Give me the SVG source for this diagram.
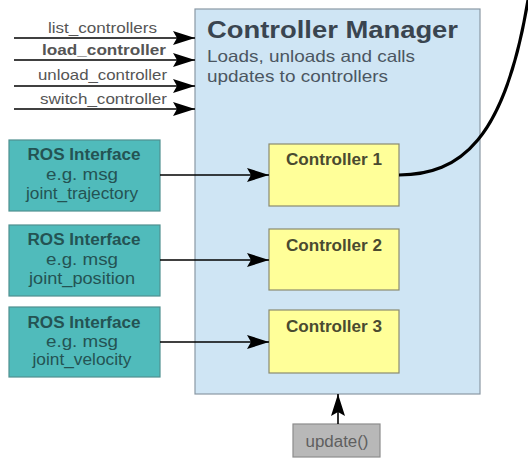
<svg xmlns="http://www.w3.org/2000/svg" width="528" height="460" viewBox="0 0 528 460">
<style>
text{font-family:"Liberation Sans",Arial,sans-serif}
.lbl{font-size:15px;fill:#555;text-anchor:middle}
.ros{fill:#50bbbb;stroke:#4f8f8f;stroke-width:1.2}
.rt{font-size:16px;fill:#245353;text-anchor:middle}
.ctl{fill:#ffff99;stroke:#8a8a70;stroke-width:1.2}
.ct{font-size:16px;font-weight:bold;fill:#4a4a30;text-anchor:middle}
.conn{stroke:#000;stroke-width:1.6;fill:none}
</style>
<defs>
<marker id="ah" markerUnits="userSpaceOnUse" markerWidth="22" markerHeight="14" refX="22" refY="7" orient="auto">
<path d="M0,0 L22,7 L0,14 L4,7 Z" fill="#000"/>
</marker>
</defs>
<g id="manager">
<rect x="195" y="9" width="285" height="385" fill="#cfe5f4" stroke="#8a98a4" stroke-width="1.2"/>
<text x="207" y="38" font-size="24" font-weight="bold" fill="#3a4550" textLength="251" lengthAdjust="spacingAndGlyphs">Controller Manager</text>
<text x="207" y="62" font-size="16.5" fill="#4b5661" textLength="208" lengthAdjust="spacingAndGlyphs">Loads, unloads and calls</text>
<text x="207" y="82" font-size="16.5" fill="#4b5661" textLength="181" lengthAdjust="spacingAndGlyphs">updates to controllers</text>
</g>
<g id="ctrl1"><rect class="ctl" x="269" y="144" width="130" height="62"/><text class="ct" x="334" y="165" textLength="96" lengthAdjust="spacingAndGlyphs">Controller 1</text></g>
<g id="ctrl2"><rect class="ctl" x="269" y="229" width="130" height="61"/><text class="ct" x="334" y="251" textLength="96" lengthAdjust="spacingAndGlyphs">Controller 2</text></g>
<g id="ctrl3"><rect class="ctl" x="269" y="310" width="130" height="63"/><text class="ct" x="334" y="332" textLength="96" lengthAdjust="spacingAndGlyphs">Controller 3</text></g>
<g id="ros1"><rect class="ros" x="9" y="140" width="151" height="71"/>
<text class="rt" x="84" y="160" font-weight="bold" textLength="113" lengthAdjust="spacingAndGlyphs">ROS Interface</text><text class="rt" x="82" y="180" textLength="72" lengthAdjust="spacingAndGlyphs">e.g. msg</text><text class="rt" x="82" y="199" textLength="112" lengthAdjust="spacingAndGlyphs">joint_trajectory</text></g>
<g id="ros2"><rect class="ros" x="9" y="225" width="151" height="71"/>
<text class="rt" x="84" y="245" font-weight="bold" textLength="113" lengthAdjust="spacingAndGlyphs">ROS Interface</text><text class="rt" x="82" y="265" textLength="72" lengthAdjust="spacingAndGlyphs">e.g. msg</text><text class="rt" x="82" y="284" textLength="106" lengthAdjust="spacingAndGlyphs">joint_position</text></g>
<g id="ros3"><rect class="ros" x="9" y="307" width="151" height="70"/>
<text class="rt" x="84" y="328" font-weight="bold" textLength="113" lengthAdjust="spacingAndGlyphs">ROS Interface</text><text class="rt" x="82" y="347" textLength="72" lengthAdjust="spacingAndGlyphs">e.g. msg</text><text class="rt" x="82" y="365" textLength="99" lengthAdjust="spacingAndGlyphs">joint_velocity</text></g>
<g id="update"><rect x="293" y="424" width="87" height="33" fill="#b8b8b8" stroke="#8c8c8c" stroke-width="1.2"/><text x="337" y="447" font-size="16" fill="#5f5f5f" text-anchor="middle" textLength="63" lengthAdjust="spacingAndGlyphs">update()</text></g>
<g id="labels">
<text class="lbl" x="102.5" y="33" textLength="109" lengthAdjust="spacingAndGlyphs">list_controllers</text>
<text class="lbl" x="104" y="55" font-weight="bold" fill="#333" textLength="124" lengthAdjust="spacingAndGlyphs">load_controller</text>
<text class="lbl" x="102.5" y="80" textLength="129" lengthAdjust="spacingAndGlyphs">unload_controller</text>
<text class="lbl" x="103.5" y="104" textLength="127" lengthAdjust="spacingAndGlyphs">switch_controller</text>
</g>
<g id="connectors">
<line class="conn" x1="14" y1="38" x2="195" y2="38" marker-end="url(#ah)"/>
<line class="conn" x1="14" y1="60" x2="195" y2="60" marker-end="url(#ah)"/>
<line class="conn" x1="14" y1="86" x2="195" y2="86" marker-end="url(#ah)"/>
<line class="conn" x1="14" y1="109" x2="195" y2="109" marker-end="url(#ah)"/>
<line class="conn" x1="160" y1="175" x2="269" y2="175" marker-end="url(#ah)"/>
<line class="conn" x1="160" y1="260" x2="269" y2="260" marker-end="url(#ah)"/>
<line class="conn" x1="160" y1="342" x2="269" y2="342" marker-end="url(#ah)"/>
<line class="conn" x1="338" y1="424" x2="338" y2="394" marker-end="url(#ah)"/>
<path d="M399,175 C460,175 505,140 528,0" stroke="#000" stroke-width="3.2" fill="none"/>
</g>
</svg>
